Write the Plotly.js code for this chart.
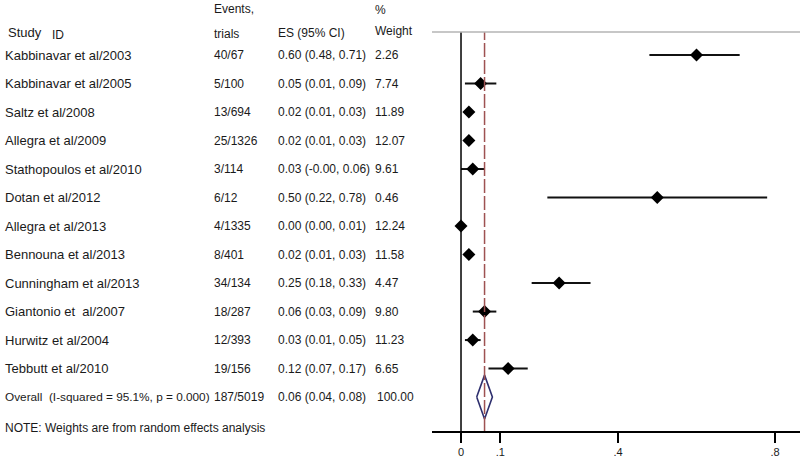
<!DOCTYPE html>
<html><head><meta charset="utf-8">
<script src="https://cdn.plot.ly/plotly-3.0.1.min.js"></script>
<style>html,body{margin:0;padding:0;background:#fff}</style>
</head><body><div id="chart" style="width:800px;height:460px"></div>
<script>
const studies = ["Kabbinavar et al/2003","Kabbinavar et al/2005","Saltz et al/2008","Allegra et al/2009","Stathopoulos et al/2010","Dotan et al/2012","Allegra et al/2013","Bennouna et al/2013","Cunningham et al/2013","Giantonio et  al/2007","Hurwitz et al/2004","Tebbutt et al/2010"];
const events = ["40/67","5/100","13/694","25/1326","3/114","6/12","4/1335","8/401","34/134","18/287","12/393","19/156"];
const es = [0.60,0.05,0.02,0.02,0.03,0.50,0.00,0.02,0.25,0.06,0.03,0.12];
const lower = [0.48,0.01,0.01,0.01,-0.00,0.22,0.00,0.01,0.18,0.03,0.01,0.07];
const upper = [0.71,0.09,0.03,0.03,0.06,0.78,0.01,0.03,0.33,0.09,0.05,0.17];
const esLabels = ["0.60 (0.48, 0.71)","0.05 (0.01, 0.09)","0.02 (0.01, 0.03)","0.02 (0.01, 0.03)","0.03 (-0.00, 0.06)","0.50 (0.22, 0.78)","0.00 (0.00, 0.01)","0.02 (0.01, 0.03)","0.25 (0.18, 0.33)","0.06 (0.03, 0.09)","0.03 (0.01, 0.05)","0.12 (0.07, 0.17)"];
const weights = ["2.26","7.74","11.89","12.07","9.61","0.46","12.24","11.58","4.47","9.80","11.23","6.65"];
const overallLabel = "Overall  (I-squared = 95.1%, p = 0.000)";
const overallEvents = "187/5019";
const overallES = 0.06, overallLower = 0.04, overallUpper = 0.08;
const overallESLabel = "0.06 (0.04, 0.08)";
const overallWeight = "100.00";
const tickVals = [0, 0.1, 0.4, 0.8];
const tickText = ["0", ".1", ".4", ".8"];

const rows = studies.map((_, i) => i);
const nOverall = studies.length;

const FAM = "Liberation Sans, Arial, sans-serif";
const F = {family: FAM, size: 12, color: "#1a1a1a"};
const FN = {family: FAM, size: 13, color: "#1a1a1a"};
const colX = {study: 3, events: 212, es: 276, weight: 373};
const ann = [];
function txt(px, y, t, yref, font) {
  ann.push({xref: "paper", yref: yref || "y", x: px/800, y: y, text: t, showarrow: false,
    xanchor: "left", yanchor: "middle", font: font || F});
}
const py = p => (431 - p) / 399;   // pixel row -> paper fraction for header/footer text
// headers
txt(6, py(32), "Study", "paper", FN);
txt(50, py(35), "ID", "paper");
txt(colX.events, py(9), "Events,", "paper");
txt(colX.events, py(34), "trials", "paper");
txt(colX.es, py(33), "ES (95% CI)", "paper");
txt(colX.weight, py(10), "%", "paper");
txt(colX.weight, py(31), "Weight", "paper");
rows.forEach(i => {
  txt(colX.study, i, studies[i], "y", FN);
  txt(colX.events, i, events[i]);
  txt(colX.es, i, esLabels[i]);
  txt(colX.weight, i, weights[i]);
});
txt(colX.study, nOverall, overallLabel, "y", Object.assign({}, F, {size: 11.8}));
txt(colX.events, nOverall, overallEvents);
txt(colX.es, nOverall, overallESLabel);
txt(colX.weight + 2, nOverall, overallWeight);
txt(colX.study, py(428), "NOTE: Weights are from random effects analysis", "paper");

const traces = [
  {type: "scatter", mode: "markers", x: es, y: rows,
   marker: {symbol: "diamond", size: 10, color: "#000"},
   error_x: {type: "data", symmetric: false,
     array: es.map((v,i) => upper[i]-v), arrayminus: es.map((v,i) => v-lower[i]),
     color: "#111", thickness: 2, width: 0},
   hoverinfo: "skip", showlegend: false},
  {type: "scatter", mode: "lines",
   x: [overallLower, overallES, overallUpper, overallES, overallLower],
   y: [nOverall, nOverall-0.77, nOverall, nOverall+0.77, nOverall],
   line: {color: "#2e2f6e", width: 1.6}, hoverinfo: "skip", showlegend: false}
];

const layout = {
  width: 800, height: 460,
  margin: {l: 0, r: 0, t: 32, b: 29},
  paper_bgcolor: "#fff", plot_bgcolor: "#fff",
  showlegend: false,
  xaxis: {domain: [0.54, 1], range: [-0.0739, 0.8637], showgrid: false, zeroline: false,
    showline: true, linecolor: "#000", linewidth: 2,
    ticks: "outside", ticklen: 10, tickwidth: 2, tickcolor: "#000",
    tickvals: tickVals, ticktext: tickText,
    tickfont: {family: FAM, size: 11, color: "#1a1a1a"}},
  yaxis: {range: [13.19, -0.807], visible: false, showgrid: false, zeroline: false},
  shapes: [
    {type: "line", xref: "x", yref: "paper", x0: 0, x1: 0, y0: 0, y1: 1, line: {color: "#000", width: 1.5}},
    {type: "line", xref: "x", yref: "paper", x0: overallES, x1: overallES, y0: 0, y1: 1, line: {color: "#9e5252", width: 1.5, dash: "14px,3px"}},
    {type: "line", xref: "paper", yref: "paper", x0: 0.54, x1: 1, y0: 1, y1: 1, line: {color: "#b5b5b5", width: 1.5}}
  ],
  annotations: ann
};
Plotly.newPlot("chart", traces, layout, {staticPlot: true, displayModeBar: false});
</script></body></html>
